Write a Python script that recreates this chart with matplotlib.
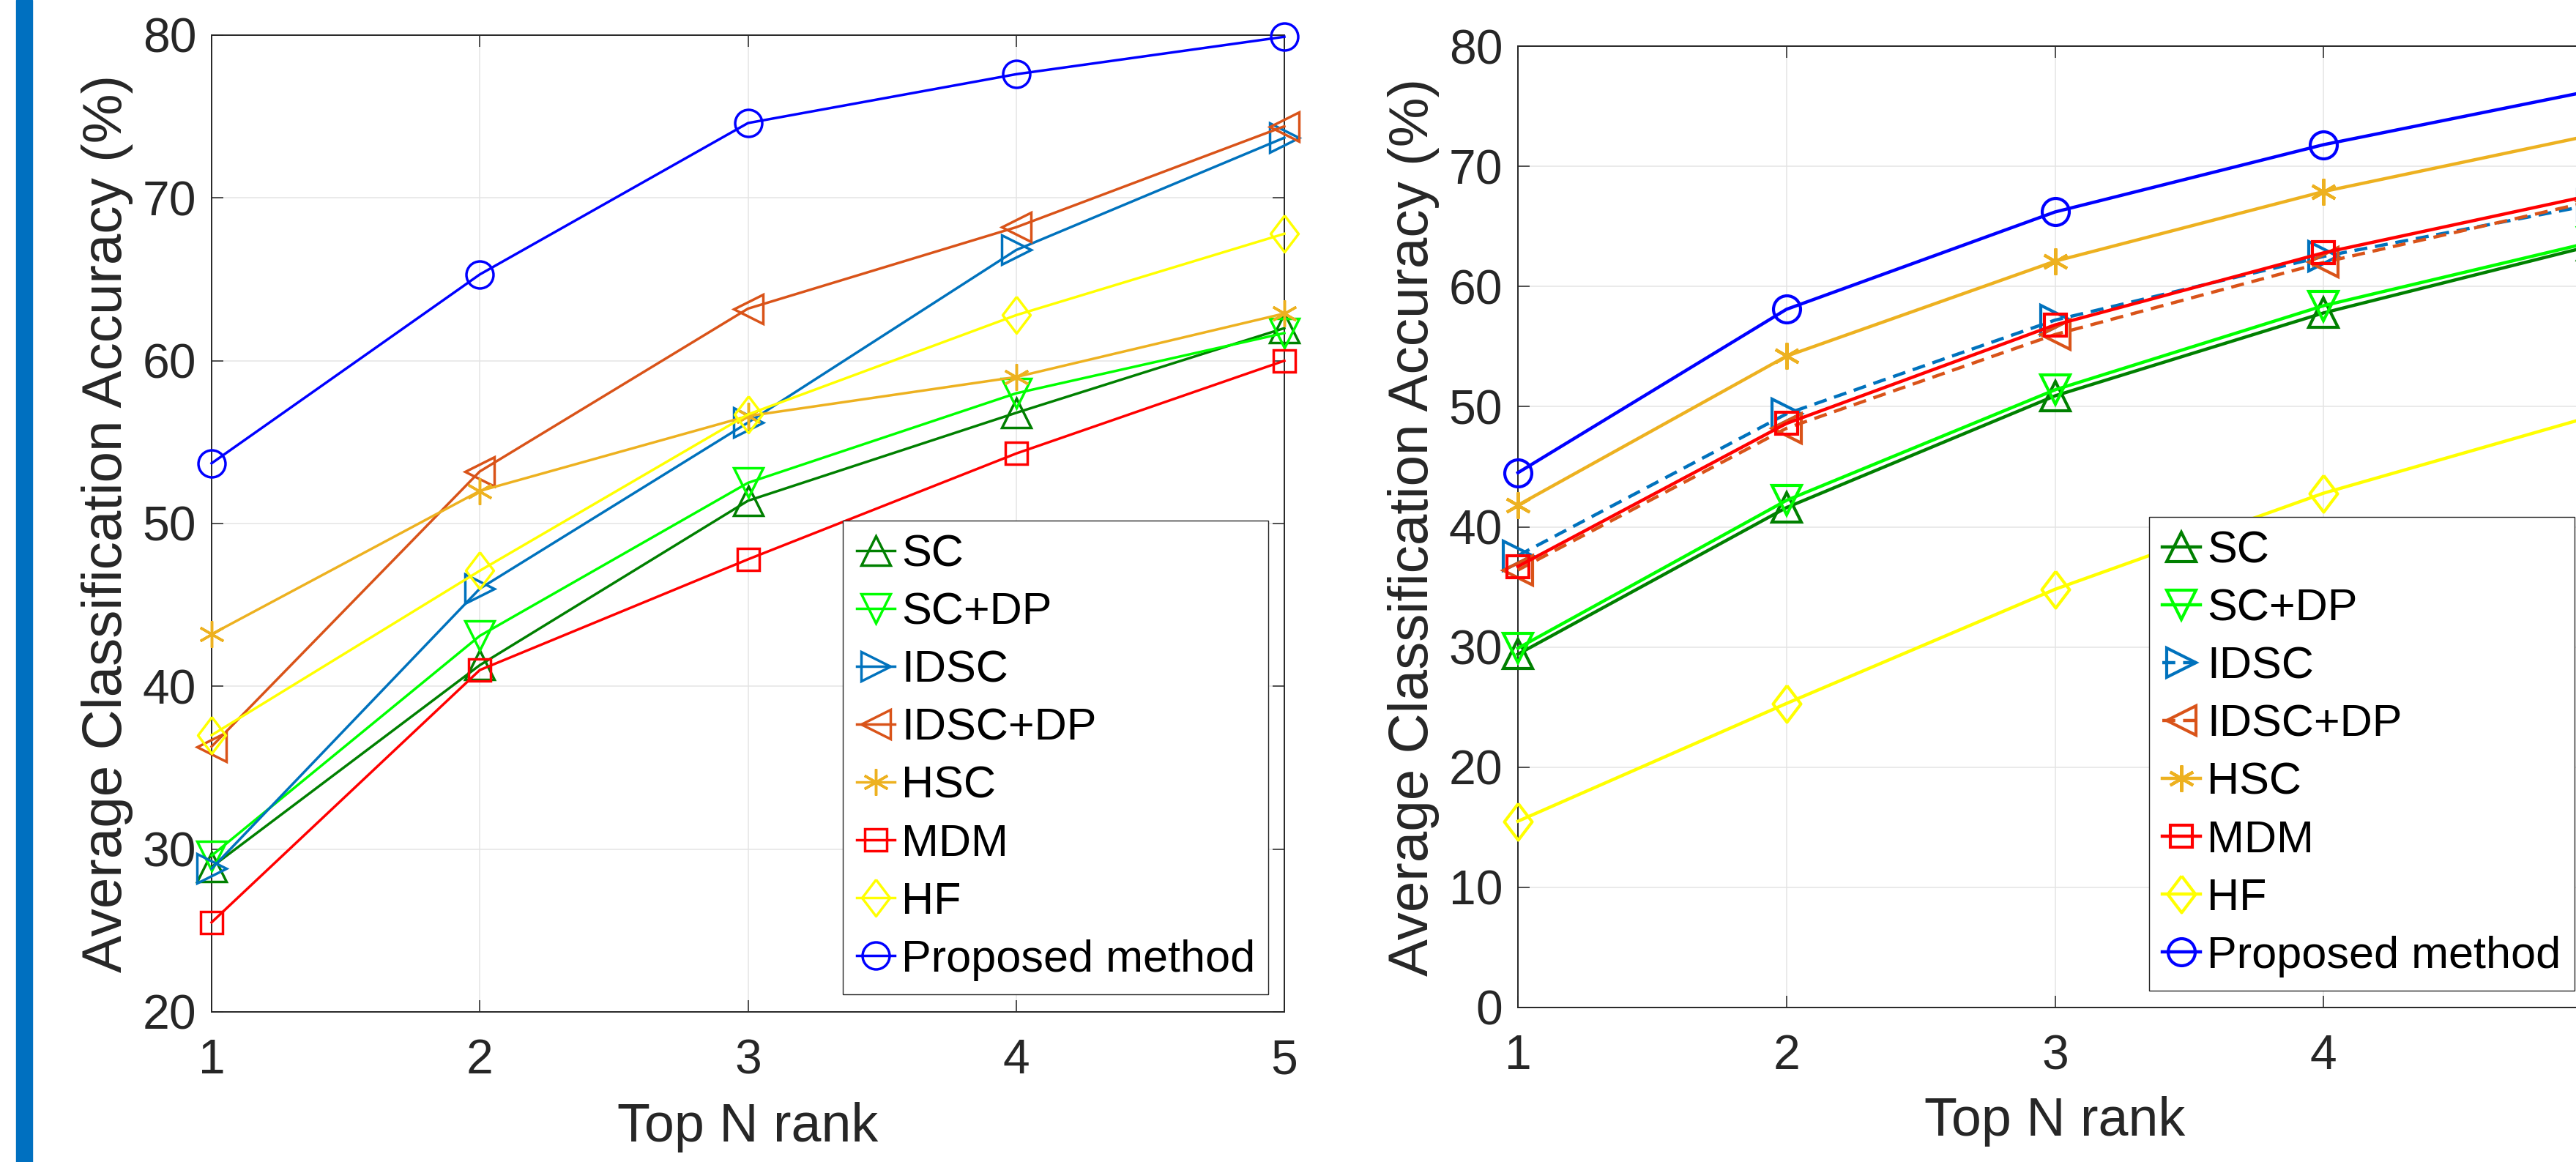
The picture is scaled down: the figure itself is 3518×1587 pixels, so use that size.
import matplotlib.pyplot as plt
from matplotlib.patches import Rectangle

plt.rcParams["font.family"] = ["Liberation Sans", "DejaVu Sans"]

# ---- data ----
ranks = [1, 2, 3, 4, 5]
methods = ["SC", "SC+DP", "IDSC", "IDSC+DP", "HSC", "MDM", "HF", "Proposed method"]

# left panel
left_sc = [28.9, 41.3, 51.4, 56.8, 62.0]
left_sc_dp = [29.6, 43.1, 52.5, 58.0, 61.7]
left_idsc = [28.8, 46.0, 56.2, 66.8, 73.7]
left_idsc_dp = [36.3, 53.2, 63.2, 68.2, 74.4]
left_hsc = [43.2, 52.0, 56.6, 59.0, 62.9]
left_mdm = [25.5, 41.0, 47.8, 54.3, 60.0]
left_hf = [37.0, 47.1, 56.7, 62.8, 67.8]
left_proposed = [53.7, 65.3, 74.6, 77.6, 79.9]

# right panel
right_sc = [29.4, 41.6, 50.9, 57.8, 63.4]
right_sc_dp = [29.9, 42.2, 51.4, 58.4, 63.7]
right_idsc = [37.6, 49.4, 57.2, 62.5, 66.8]
right_idsc_dp = [36.4, 48.2, 56.0, 62.0, 67.1]
right_hsc = [41.8, 54.2, 62.1, 67.9, 72.6]
right_mdm = [36.7, 48.6, 56.8, 62.8, 67.6]
right_hf = [15.5, 25.3, 34.8, 42.8, 49.2]
right_proposed = [44.5, 58.1, 66.2, 71.8, 76.3]

left_xticklabels = ["1", "2", "3", "4", "5"]
right_xticklabels = ["1", "2", "3", "4", ""]   # "5" falls outside the picture
left_yticks = [20, 30, 40, 50, 60, 70, 80]
right_yticks = [0, 10, 20, 30, 40, 50, 60, 70, 80]

# ---- styles ----
DIAMOND = [(0, 1), (0.76, 0), (0, -1), (-0.76, 0), (0, 1)]
colors = ["#008000", "#00FF00", "#0072BD", "#D95319", "#EDB120", "#FF0000", "#FFFF00", "#0000FF"]
markers = ["^", "v", ">", "<", (6, 2, 0), "s", DIAMOND, "o"]
msizes = [29.5, 29.5, 29.5, 29.5, 26, 21.6, 36, 26.6]
DARK = "#262626"

W, H = 3518, 1587
fig = plt.figure(figsize=(W / 100, H / 100), dpi=100)

# blue bar at the left edge
fig.patches.append(Rectangle((22 / W, 0), 22 / W, 1, transform=fig.transFigure,
                             color="#0070C0", zorder=0))


def panel(rect, series, ylim, yticks, xticklabels, lw, mew, dashed, leg_anchor):
    ax = fig.add_axes(rect)
    handles = []
    for i, (name, ys) in enumerate(zip(methods, series)):
        ls = "--" if i in dashed else "-"
        (ln,) = ax.plot(ranks, ys, linestyle=ls, color=colors[i], lw=lw,
                        marker=markers[i], markersize=msizes[i],
                        markerfacecolor="none", markeredgecolor=colors[i],
                        markeredgewidth=mew, label=name, clip_on=False, zorder=3 + i)
        if ls == "--":
            ln.set_dashes((4, 2.4))
        handles.append(ln)

    ax.set_xlim(1, 5)
    ax.set_ylim(*ylim)
    ax.set_xticks(ranks)
    ax.set_xticklabels(xticklabels)
    ax.set_yticks(yticks)
    ax.grid(True, color="#e4e4e4", lw=1.1)
    ax.set_axisbelow(True)
    ax.tick_params(axis="both", direction="in", top=True, right=True, length=11.5,
                   width=1.1, color=DARK, labelcolor=DARK, labelsize=47.5)
    ax.tick_params(axis="y", pad=15)
    ax.tick_params(axis="x", pad=26)
    for s in ax.spines.values():
        s.set_linewidth(1.4)
        s.set_color(DARK)

    ax.set_xlabel("Top N rank", fontsize=53, color=DARK)
    ax.set_ylabel("Average Classification Accuracy (%)", fontsize=55, color=DARK)
    ax.xaxis.set_label_coords(0.5, -0.092)
    ax.yaxis.set_label_coords(-0.073, 0.5)

    leg = ax.legend(handles=handles, loc="lower right", bbox_to_anchor=leg_anchor,
                    borderaxespad=0, fontsize=44, frameon=True, fancybox=False,
                    framealpha=1, edgecolor=DARK, handlelength=0.85,
                    handletextpad=0.15, borderpad=0.3, labelspacing=0.36,
                    numpoints=1)
    leg.get_frame().set_linewidth(1.0)
    leg.set_zorder(20)
    return ax


left_series = [left_sc, left_sc_dp, left_idsc, left_idsc_dp,
               left_hsc, left_mdm, left_hf, left_proposed]
right_series = [right_sc, right_sc_dp, right_idsc, right_idsc_dp,
                right_hsc, right_mdm, right_hf, right_proposed]

panel([289 / W, (H - 1382) / H, 1465 / W, 1334 / H], left_series, (20, 80),
      left_yticks, left_xticklabels, lw=2.5, mew=2.5, dashed=[],
      leg_anchor=(0.9853, 0.018))
panel([2073 / W, (H - 1376) / H, 1467 / W, 1313 / H], right_series, (0, 80),
      right_yticks, right_xticklabels, lw=3.2, mew=3.0, dashed=[2, 3],
      leg_anchor=(0.9836, 0.0175))

fig.savefig("out.png", dpi=100)
